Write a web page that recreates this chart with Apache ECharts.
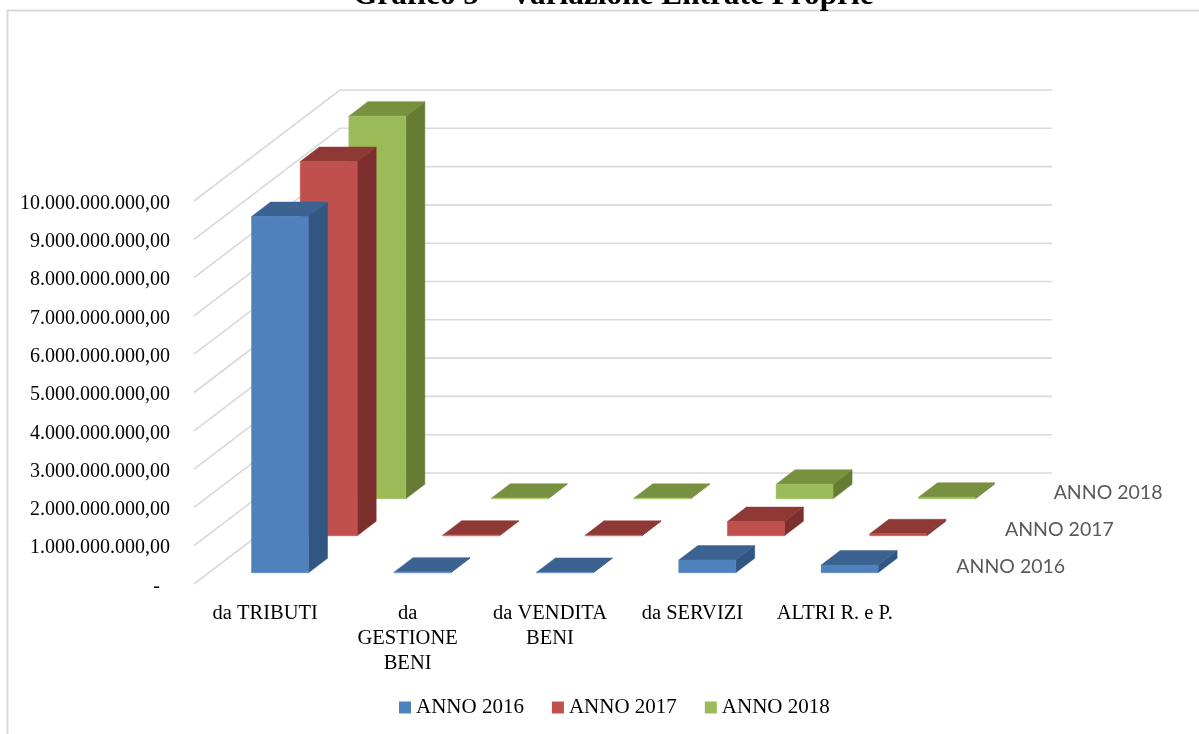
<!DOCTYPE html>
<html><head><meta charset="utf-8">
<style>html,body{margin:0;padding:0;background:#fff}#c{width:1199px;height:734px}</style>
<script src="https://cdn.jsdelivr.net/npm/echarts@6/dist/echarts.min.js"></script>
</head><body><div id="c"></div>
<script>
const categories = ['da TRIBUTI', 'da\nGESTIONE\nBENI', 'da VENDITA\nBENI', 'da SERVIZI', 'ALTRI R. e P.'];
const seriesNames = ['ANNO 2016', 'ANNO 2017', 'ANNO 2018'];
const anno2016 = [9300000000, 15000000, 8000000, 330000000, 200000000];
const anno2017 = [9770000000, 15000000, 10000000, 370000000, 50000000];
const anno2018 = [9990000000, 15000000, 10000000, 380000000, 40000000];
const yTicks = [0,1e9,2e9,3e9,4e9,5e9,6e9,7e9,8e9,9e9,1e10];

const SERIF = '"Liberation Serif", serif';
const DEPTH_X = 146, DEPTH_Y = 111;
const ROW_X = DEPTH_X / 3, ROW_Y = DEPTH_Y / 3;
const BAR_DX = 19, BAR_DY = 14.5;
const faces = [
  {front:'#4f81bd', top:'#3c6291', side:'#325682', edge:'#6f9bd0'},
  {front:'#c0504d', top:'#8f3937', side:'#7c2f2d', edge:'#d46f6c'},
  {front:'#9bbb59', top:'#779140', side:'#667c34', edge:'#b1cf74'}
];
function barRender(row){
  const f = faces[row];
  return function(params, api){
    const c = api.value(0), v = api.value(1);
    const base = api.coord([c,0]), top = api.coord([c,v]);
    const band = api.size([1,0])[0], w = band*0.4;
    const sx = ROW_X*(row+0.5) - BAR_DX/2, sy = ROW_Y*(row+0.5) - BAR_DY/2;
    const l = base[0]-w/2+sx, r = l+w, b = base[1]-sy, t = top[1]-sy;
    const poly = (pts, fill, stroke) => ({type:'polygon', shape:{points:pts},
      style:{fill:fill, stroke:stroke||fill, lineWidth:stroke?1:0.5}});
    return {type:'group', children:[
      poly([[r,b],[r+BAR_DX,b-BAR_DY],[r+BAR_DX,t-BAR_DY],[r,t]], f.side),
      poly([[l,t],[r,t],[r+BAR_DX,t-BAR_DY],[l+BAR_DX,t-BAR_DY]], f.top),
      poly([[l,b],[r,b],[r,t],[l,t]], f.front, t < b-1.5 ? null : f.edge)
    ]};
  };
}
function wallRender(params, api){
  const v = api.value(1);
  const p = api.coord([0,v]), band = api.size([1,0])[0];
  const x = p[0]-band/2, y = p[1];
  return {type:'polyline', shape:{points:[[x,y],[x+DEPTH_X,y-DEPTH_Y],[x+DEPTH_X+band*categories.length,y-DEPTH_Y]]},
    style:{stroke:'#d9d9d9', lineWidth:1.6, fill:null}};
}
function depthLabelRender(params, api){
  const row = params.dataIndex;
  const last = api.coord([categories.length-1,0]), band = api.size([1,0])[0];
  return {type:'text', style:{
    text: seriesNames[row], x: last[0]+band*0.5+ROW_X*(row+0.5)+26, y: last[1]-ROW_Y*(row+0.5)+1.5,
    fill:'#595959', font:'19.5px Lato, sans-serif', textAlign:'left', textVerticalAlign:'middle'}};
}
const values = [anno2016, anno2017, anno2018];
const chart = echarts.init(document.getElementById('c'), null, {renderer:'canvas'});
chart.setOption({
  animation:false,
  backgroundColor:'#fff',
  title:{text:'Grafico 5 – Variazione Entrate Proprie', left:348, top:-25,
    textStyle:{fontFamily:SERIF, fontWeight:'bold', fontSize:31.3, color:'#000'}},
  legend:{data:seriesNames, left:394, top:692, itemWidth:12, itemHeight:12, itemGap:28, icon:'rect',
    textStyle:{fontFamily:SERIF, fontSize:21, color:'#000'}},
  grid:{left:194, top:201, width:712, height:383, containLabel:false},
  xAxis:{type:'category', data:categories, axisLine:{show:false}, axisTick:{show:false}, splitLine:{show:false},
    axisLabel:{interval:0, margin:17, fontFamily:SERIF, fontSize:20.5, lineHeight:25, color:'#000'}},
  yAxis:{type:'value', min:0, max:1e10, interval:1e9, axisLine:{show:false}, axisTick:{show:false}, splitLine:{show:false},
    axisLabel:{margin:24, fontFamily:SERIF, fontSize:20, color:'#000',
      rich:{a:{fontFamily:SERIF, fontSize:20, color:'#000', padding:[5,0,0,0]}},
      formatter:v => '{a|' + (v===0 ? '-\u00a0\u00a0' : v.toLocaleString('de-DE',{minimumFractionDigits:2, maximumFractionDigits:2})) + '}'}},
  graphic:[
    {type:'polyline', z:0, shape:{points:[[7.5,734],[7.5,10.5],[1199,10.5]]}, style:{stroke:'#d9d9d9', lineWidth:2, fill:null}}
  ],
  series:[
    {type:'custom', name:'wall', z:1, clip:false, silent:true, encode:{x:0,y:1}, data:yTicks.map(v=>[0,v]), renderItem:wallRender},
    ...[2,1,0].map(row => ({
      type:'custom', name:seriesNames[row], z:5-row, clip:false,
      itemStyle:{color:faces[row].front}, encode:{x:0,y:1},
      data:values[row].map((v,i)=>[i,v]), renderItem:barRender(row)
    })),
    {type:'custom', name:'labels', z:2, clip:false, silent:true, encode:{x:0,y:1}, data:seriesNames.map(()=>[4,0]), renderItem:depthLabelRender}
  ]
});
</script></body></html>
